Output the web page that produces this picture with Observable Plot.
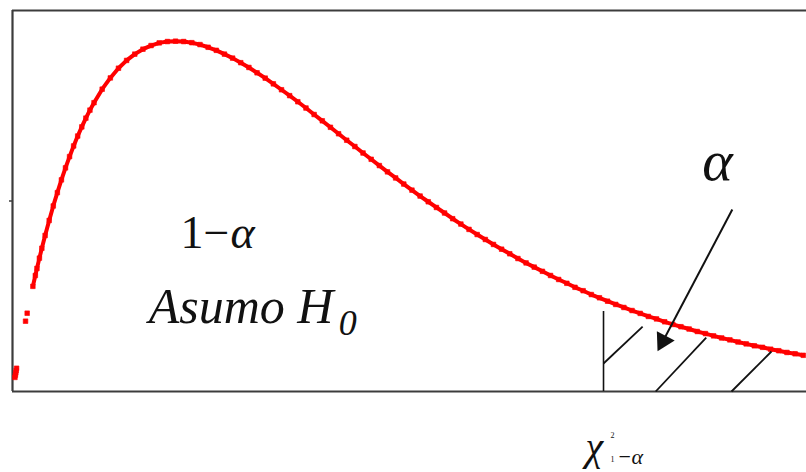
<!DOCTYPE html>
<html>
<head>
<meta charset="utf-8">
<script src="https://cdn.jsdelivr.net/npm/d3@7"></script>
<script src="https://cdn.jsdelivr.net/npm/@observablehq/plot@0.6"></script>
<style>
  body { margin: 0; background: #fff; }
  svg { display: block; }
</style>
</head>
<body>
<div id="chart"></div>
<script>
// Chi-square density (4 degrees of freedom), sampled points
const chiX = [
  0.03, 0.035, 0.04, 0.045, 0.05, 0.16, 0.18, 0.25, 0.28, 0.3, 0.33, 0.36, 0.4, 0.45, 0.5,
  0.55, 0.6, 0.65, 0.7, 0.75, 0.8, 0.85, 0.9, 0.95, 1.0, 1.1, 1.2, 1.3, 1.4, 1.5,
  1.6, 1.7, 1.8, 1.9, 2.0, 2.1, 2.2, 2.3, 2.4, 2.5, 2.6, 2.7, 2.8, 2.9, 3.0,
  3.1, 3.2, 3.3, 3.4, 3.5, 3.6, 3.7, 3.8, 3.9, 4.0, 4.1, 4.2, 4.3, 4.4, 4.5,
  4.6, 4.7, 4.8, 4.9, 5.0, 5.1, 5.2, 5.3, 5.4, 5.5, 5.6, 5.7, 5.8, 5.9, 6.0,
  6.1, 6.2, 6.3, 6.4, 6.5, 6.6, 6.7, 6.8, 6.9, 7.0, 7.1, 7.2, 7.3, 7.4, 7.5,
  7.6, 7.7, 7.8, 7.9, 8.0, 8.1, 8.2, 8.3, 8.4, 8.5, 8.6, 8.7, 8.8, 8.9, 9.0,
  9.1, 9.2, 9.3, 9.4, 9.5, 9.6, 9.7
];
const density = [
  0.0074, 0.0086, 0.0098, 0.0110, 0.0122, 0.0369, 0.0411, 0.0552, 0.0609, 0.0646, 0.0700, 0.0752, 0.0819, 0.0898, 0.0974,
  0.1044, 0.1111, 0.1174, 0.1233, 0.1289, 0.1341, 0.1389, 0.1435, 0.1477, 0.1516, 0.1587, 0.1646, 0.1697, 0.1738, 0.1771,
  0.1797, 0.1816, 0.1830, 0.1837, 0.1839, 0.1837, 0.1831, 0.1821, 0.1807, 0.1791, 0.1771, 0.1750, 0.1726, 0.1701, 0.1673,
  0.1645, 0.1615, 0.1584, 0.1553, 0.1521, 0.1488, 0.1454, 0.1421, 0.1387, 0.1353, 0.1319, 0.1286, 0.1252, 0.1219, 0.1186,
  0.1153, 0.1121, 0.1089, 0.1057, 0.1026, 0.0996, 0.0966, 0.0937, 0.0907, 0.0879, 0.0851, 0.0824, 0.0798, 0.0772, 0.0747,
  0.0723, 0.0698, 0.0675, 0.0653, 0.0631, 0.0609, 0.0588, 0.0568, 0.0547, 0.0529, 0.0509, 0.0492, 0.0474, 0.0457, 0.0441,
  0.0425, 0.0410, 0.0394, 0.0381, 0.0366, 0.0352, 0.0340, 0.0328, 0.0315, 0.0304, 0.0292, 0.0281, 0.0271, 0.0260, 0.0250,
  0.0240, 0.0232, 0.0222, 0.0214, 0.0205, 0.0198, 0.0190
];

// Critical value and the hatching of the rejection region
const critical = 7.25;
const criticalTop = 0.042;
const hatchX1 = [7.25, 7.89, 8.82];
const hatchY1 = [0.0147, 0.0, 0.0];
const hatchX2 = [7.73, 8.51, 9.31];
const hatchY2 = [0.0341, 0.0283, 0.0210];

// Arrow pointing at the alpha region
const arrowFrom = [8.83, 0.0955];
const arrowTo = [7.98, 0.0265];

const points = chiX.map((x, i) => ({x, y: density[i]}));
const hatches = hatchX1.map((x1, i) => ({x1, y1: hatchY1[i], x2: hatchX2[i], y2: hatchY2[i]}));

const ink = "#111";
const frame = "#3c3c3c";

// One piece of a math label: baseline at (x, y), shifted by dx/dy pixels
function piece(text, x, y, size, {italic = false, dx = 0, dy = 0} = {}) {
  return Plot.text([text], {
    x: () => x, y: () => y, text: d => d,
    dx, dy,
    textAnchor: "start", lineAnchor: "bottom",
    fontFamily: "Liberation Serif",
    fontStyle: italic ? "italic" : "normal",
    fontSize: size,
    fill: ink
  });
}

const plot = Plot.plot({
  width: 806,
  height: 472,
  marginLeft: 12,
  marginRight: 0,
  marginTop: 10,
  marginBottom: 81,
  x: {domain: [0, 9.74], axis: null},
  y: {domain: [0, 0.2], axis: null},
  marks: [
    Plot.ruleY([0, 0.2], {stroke: frame, strokeWidth: 2.2}),
    Plot.ruleX([0], {stroke: frame, strokeWidth: 2.2}),
    Plot.axisY([0.1], {tickSize: 3, tickFormat: () => "", label: null, stroke: frame, strokeWidth: 1.5}),
    Plot.line(points.filter(d => d.x >= 0.25), {x: "x", y: "y", stroke: "red", strokeWidth: 4}),
    Plot.dot(points, {x: "x", y: "y", symbol: "square", r: 2.6, fill: "red", stroke: "red", strokeWidth: 0.6}),
    Plot.ruleX([critical], {y1: 0, y2: criticalTop, stroke: ink, strokeWidth: 1.6}),
    Plot.link(hatches, {x1: "x1", y1: "y1", x2: "x2", y2: "y2", stroke: ink, strokeWidth: 1.8}),
    Plot.link([0], {x1: arrowFrom[0], y1: arrowFrom[1], x2: arrowTo[0], y2: arrowTo[1], stroke: ink, strokeWidth: 2}),
    Plot.dot([0], {x: arrowTo[0], y: arrowTo[1], symbol: "triangle", r: 7.5, fill: ink, rotate: 208}),

    // 1 − α
    piece("1−", 2.06, 0.0751, 46),
    piece("α", 2.06, 0.0751, 46, {italic: true, dx: 50}),
    // Asumo H0
    piece("Asumo H", 1.67, 0.0357, 50, {italic: true}),
    piece("0", 1.67, 0.0357, 36, {italic: true, dx: 190, dy: 12}),
    // α
    piece("α", 8.46, 0.1108, 58, {italic: true}),
    // χ²(1−α)
    piece("χ", 7.03, -0.036, 40, {italic: true}),
    piece("2", 7.03, -0.036, 8, {dx: 25, dy: -22}),
    piece("1", 7.03, -0.036, 8, {dx: 25, dy: 2}),
    piece("−", 7.03, -0.036, 22, {dx: 33, dy: 4}),
    piece("α", 7.03, -0.036, 22, {italic: true, dx: 46, dy: 4})
  ]
});

document.getElementById("chart").append(plot);
</script>
</body>
</html>
